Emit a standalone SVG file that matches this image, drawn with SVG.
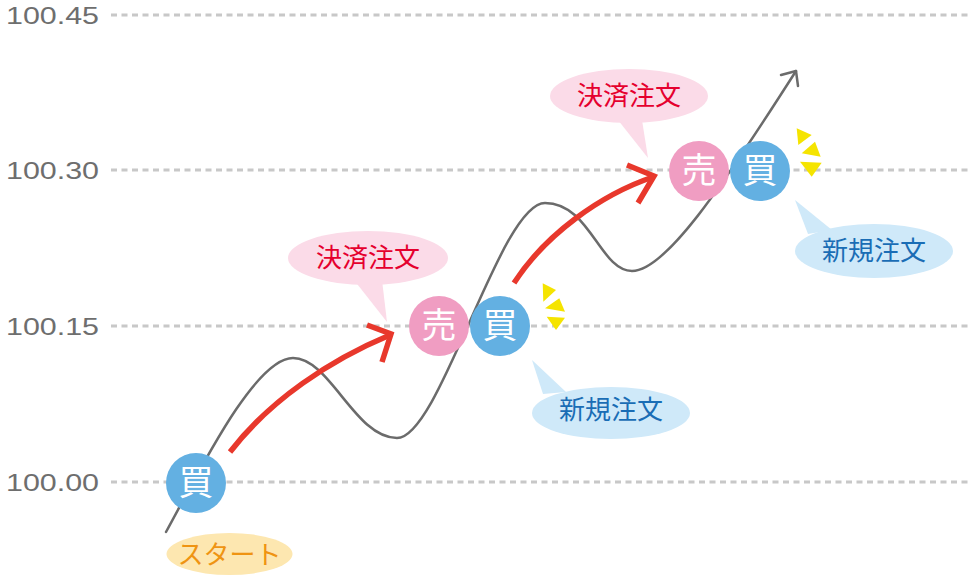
<svg xmlns="http://www.w3.org/2000/svg" width="977" height="575" viewBox="0 0 977 575">
<style>
.grid{stroke:#c8c8c8;stroke-width:3;stroke-dasharray:6 4.5;fill:none}
.axis{font-family:"Liberation Sans","DejaVu Sans",sans-serif;font-size:23px;fill:#6e6e6e}
.price{fill:none;stroke:#6b6b6b;stroke-width:2.5;stroke-linecap:round;stroke-linejoin:round}
.trade{fill:none;stroke:#e8382c;stroke-width:5.5;stroke-linecap:butt;stroke-linejoin:miter}
.buy{fill:#63b0e2}
.sell{fill:#f09dc2}
.ctext{font-family:"Noto Sans CJK JP","Noto Sans CJK SC",sans-serif;font-size:35px;fill:#ffffff;text-anchor:middle}
.btext{font-family:"Noto Sans CJK JP","Noto Sans CJK SC",sans-serif;font-size:26px;text-anchor:middle}
.pinkb{fill:#fbdbe8}
.blueb{fill:#cfe9f9}
.yellowb{fill:#fde7b0}
.spark{fill:#f5e400}
</style>
<g id="grid">
<line class="grid" x1="111" y1="15" x2="970" y2="15"/>
<line class="grid" x1="111" y1="170" x2="970" y2="170"/>
<line class="grid" x1="111" y1="326" x2="970" y2="326"/>
<line class="grid" x1="111" y1="482" x2="970" y2="482"/>
<text class="axis" x="6" y="24" textLength="93" lengthAdjust="spacingAndGlyphs">100.45</text>
<text class="axis" x="6" y="179" textLength="93" lengthAdjust="spacingAndGlyphs">100.30</text>
<text class="axis" x="6" y="335" textLength="93" lengthAdjust="spacingAndGlyphs">100.15</text>
<text class="axis" x="6" y="491" textLength="93" lengthAdjust="spacingAndGlyphs">100.00</text>
</g>
<g id="connectors">
<path class="price" d="M166,532 C200,470 255,358 293,358 C330,358 355,438 397,438 C440,438 500,203 545,203 C590,203 600,271 632,271 C665,271 720,190 796,71"/>
<path class="price" d="M781,75 L796,71 L798,86"/>
<path class="trade" d="M230,452 C270,400 330,360 390,335"/>
<path class="trade" d="M367,325 L391,334 L382,362"/>
<path class="trade" d="M514,283 C545,235 600,195 653,177"/>
<path class="trade" d="M627,165 L654,176 L638,203"/>
</g>
<g id="buy-start">
<circle class="buy" cx="196" cy="483" r="30"/>
<text class="ctext" x="196" y="495">買</text>
</g>
<g id="sell-1">
<circle class="sell" cx="439" cy="326" r="30"/>
<text class="ctext" x="439" y="338">売</text>
</g>
<g id="buy-1">
<circle class="buy" cx="500" cy="326" r="30"/>
<text class="ctext" x="500" y="338">買</text>
</g>
<g id="sell-2">
<circle class="sell" cx="699" cy="171" r="30"/>
<text class="ctext" x="699" y="183">売</text>
</g>
<g id="buy-2">
<circle class="buy" cx="760" cy="171" r="30"/>
<text class="ctext" x="760" y="183">買</text>
</g>
<g id="start-label">
<ellipse class="yellowb" cx="229.5" cy="554" rx="63" ry="21"/>
<text class="btext" x="229.5" y="564" fill="#ef9412">スタート</text>
</g>
<g id="settle-1">
<path class="pinkb" d="M354,280 L387,322 L382,280 Z"/>
<ellipse class="pinkb" cx="368" cy="258" rx="80" ry="27"/>
<text class="btext" x="368" y="267" fill="#e5002e">決済注文</text>
</g>
<g id="new-1">
<path class="blueb" d="M543,394 L532,360 L566,392 Z"/>
<ellipse class="blueb" cx="611" cy="413" rx="79" ry="26"/>
<text class="btext" x="611" y="419" fill="#1a6db5">新規注文</text>
</g>
<g id="settle-2">
<path class="pinkb" d="M618,120 L648,158 L642,120 Z"/>
<ellipse class="pinkb" cx="629" cy="96" rx="79" ry="27"/>
<text class="btext" x="629" y="105" fill="#e5002e">決済注文</text>
</g>
<g id="new-2">
<path class="blueb" d="M808,234 L795,200 L832,230 Z"/>
<ellipse class="blueb" cx="874" cy="251" rx="79" ry="27"/>
<text class="btext" x="874" y="260" fill="#1a6db5">新規注文</text>
</g>
<g id="spark-1">
<polygon class="spark" points="542.7,283.3 556,290 543.3,301.7"/>
<polygon class="spark" points="559.3,298.3 565,311.7 545,308.3"/>
<polygon class="spark" points="546.7,316.7 565,317.7 556,330"/>
</g>
<g id="spark-2">
<polygon class="spark" points="796.7,128.3 811.7,135 798.3,145"/>
<polygon class="spark" points="815,141.7 820.7,156.7 801.7,153.3"/>
<polygon class="spark" points="800,161.7 821.7,162.7 811.7,176.7"/>
</g>
</svg>
